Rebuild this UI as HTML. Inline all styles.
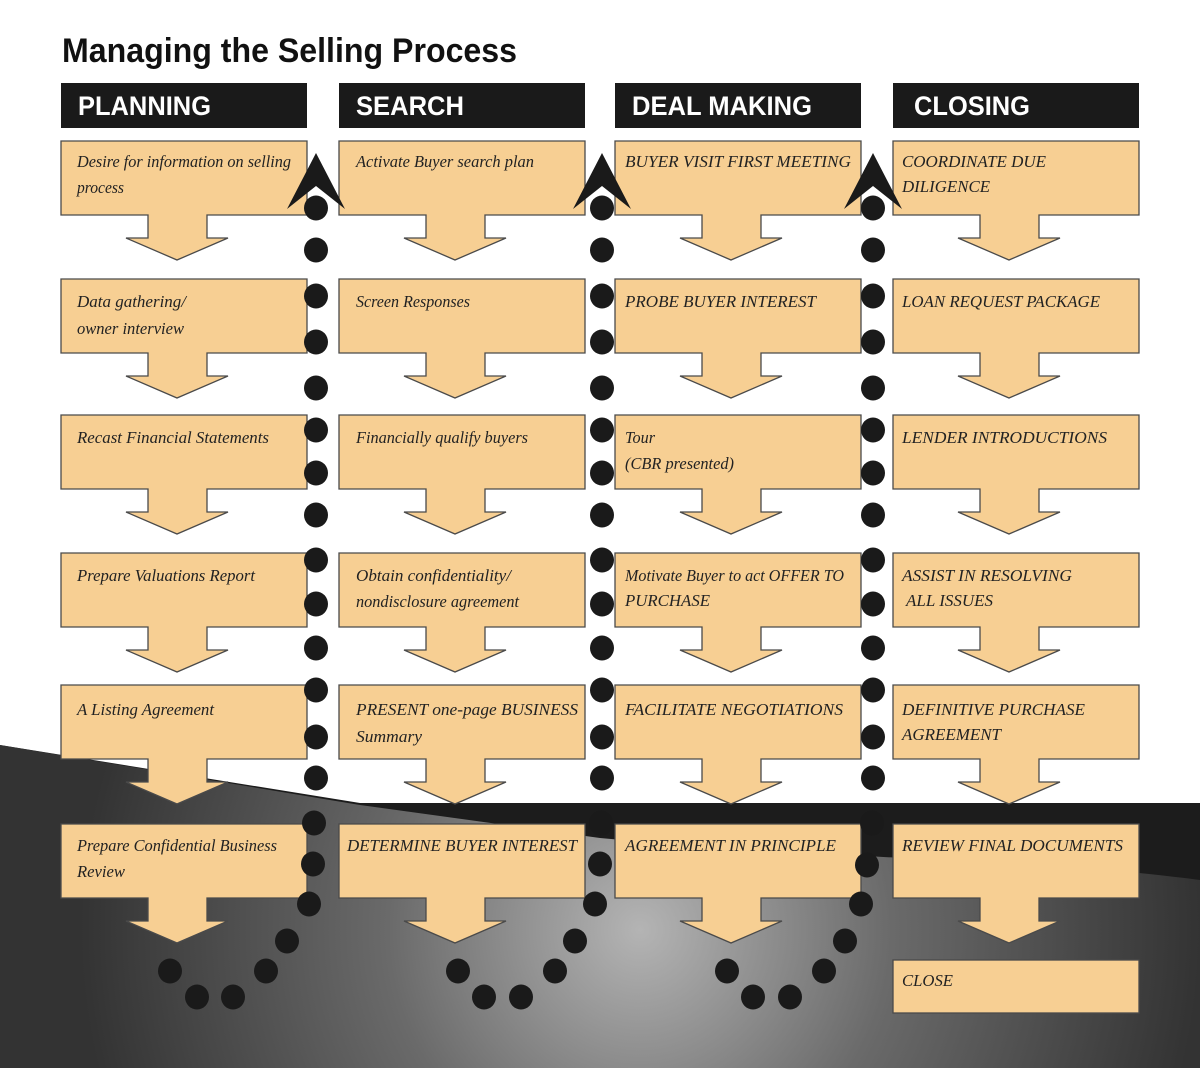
<!DOCTYPE html>
<html><head><meta charset="utf-8"><style>
html,body{margin:0;padding:0;background:#fff;}
svg{display:block;}
.b{fill:#f7cf93;stroke:#4a4a4a;stroke-width:1.3;}
.t{font-family:"Liberation Serif",serif;font-style:italic;font-size:17px;fill:#222;}
.h{font-family:"Liberation Sans",sans-serif;font-weight:bold;font-size:27px;fill:#fff;}
</style></head><body>
<svg width="1200" height="1068" viewBox="0 0 1200 1068" xmlns="http://www.w3.org/2000/svg">
<defs>
<radialGradient id="g" cx="640" cy="930" r="560" gradientUnits="userSpaceOnUse">
<stop offset="0" stop-color="#b4b4b4"/><stop offset="0.45" stop-color="#6a6a6a"/><stop offset="1" stop-color="#333"/>
</radialGradient>
</defs>
<rect width="1200" height="1068" fill="#fff"/>
<polygon points="0,745 360,803 1200,803 1200,1068 0,1068" fill="#1c1c1c"/>
<path d="M0,745 L360,805 L600,838 C750,852 900,858 1000,862 C1100,868 1160,875 1200,880 L1200,1068 L0,1068 Z" fill="url(#g)"/>
<text x="62" y="62" font-family="Liberation Sans,sans-serif" font-weight="bold" font-size="34" fill="#111" textLength="455" lengthAdjust="spacingAndGlyphs">Managing the Selling Process</text>
<rect x="61" y="83" width="246" height="45" fill="#1a1a1a"/>
<rect x="339" y="83" width="246" height="45" fill="#1a1a1a"/>
<rect x="615" y="83" width="246" height="45" fill="#1a1a1a"/>
<rect x="893" y="83" width="246" height="45" fill="#1a1a1a"/>
<text class="h" x="78" y="115" textLength="133" lengthAdjust="spacingAndGlyphs">PLANNING</text>
<text class="h" x="356" y="115" textLength="108" lengthAdjust="spacingAndGlyphs">SEARCH</text>
<text class="h" x="632" y="115" textLength="180" lengthAdjust="spacingAndGlyphs">DEAL MAKING</text>
<text class="h" x="914" y="115" textLength="116" lengthAdjust="spacingAndGlyphs">CLOSING</text>

<g id="boxes">
<!-- box path: M x,y H x+246 V y+74 H x+146 V y+97 H x+167 L x+116,y+119 L x+65,y+97 H x+87 V y+74 H x Z -->
<path class="b" d="M61,141 H307 V215 H207 V238 H228 L177,260 L126,238 H148 V215 H61 Z"/>
<path class="b" d="M61,279 H307 V353 H207 V376 H228 L177,398 L126,376 H148 V353 H61 Z"/>
<path class="b" d="M61,415 H307 V489 H207 V512 H228 L177,534 L126,512 H148 V489 H61 Z"/>
<path class="b" d="M61,553 H307 V627 H207 V650 H228 L177,672 L126,650 H148 V627 H61 Z"/>
<path class="b" d="M61,685 H307 V759 H207 V782 H228 L177,804 L126,782 H148 V759 H61 Z"/>
<path class="b" d="M61,824 H307 V898 H207 V921 H228 L177,943 L126,921 H148 V898 H61 Z"/>

<path class="b" d="M339,141 H585 V215 H485 V238 H506 L455,260 L404,238 H426 V215 H339 Z"/>
<path class="b" d="M339,279 H585 V353 H485 V376 H506 L455,398 L404,376 H426 V353 H339 Z"/>
<path class="b" d="M339,415 H585 V489 H485 V512 H506 L455,534 L404,512 H426 V489 H339 Z"/>
<path class="b" d="M339,553 H585 V627 H485 V650 H506 L455,672 L404,650 H426 V627 H339 Z"/>
<path class="b" d="M339,685 H585 V759 H485 V782 H506 L455,804 L404,782 H426 V759 H339 Z"/>
<path class="b" d="M339,824 H585 V898 H485 V921 H506 L455,943 L404,921 H426 V898 H339 Z"/>

<path class="b" d="M615,141 H861 V215 H761 V238 H782 L731,260 L680,238 H702 V215 H615 Z"/>
<path class="b" d="M615,279 H861 V353 H761 V376 H782 L731,398 L680,376 H702 V353 H615 Z"/>
<path class="b" d="M615,415 H861 V489 H761 V512 H782 L731,534 L680,512 H702 V489 H615 Z"/>
<path class="b" d="M615,553 H861 V627 H761 V650 H782 L731,672 L680,650 H702 V627 H615 Z"/>
<path class="b" d="M615,685 H861 V759 H761 V782 H782 L731,804 L680,782 H702 V759 H615 Z"/>
<path class="b" d="M615,824 H861 V898 H761 V921 H782 L731,943 L680,921 H702 V898 H615 Z"/>

<path class="b" d="M893,141 H1139 V215 H1039 V238 H1060 L1009,260 L958,238 H980 V215 H893 Z"/>
<path class="b" d="M893,279 H1139 V353 H1039 V376 H1060 L1009,398 L958,376 H980 V353 H893 Z"/>
<path class="b" d="M893,415 H1139 V489 H1039 V512 H1060 L1009,534 L958,512 H980 V489 H893 Z"/>
<path class="b" d="M893,553 H1139 V627 H1039 V650 H1060 L1009,672 L958,650 H980 V627 H893 Z"/>
<path class="b" d="M893,685 H1139 V759 H1039 V782 H1060 L1009,804 L958,782 H980 V759 H893 Z"/>
<path class="b" d="M893,824 H1139 V898 H1039 V921 H1060 L1009,943 L958,921 H980 V898 H893 Z"/>
<rect class="b" x="893" y="960" width="246" height="53"/>
</g>

<g fill="#1a1a1a">
<polygon points="316,153 345,209 316,186 287,209"/>
<polygon points="602,153 631,209 602,186 573,209"/>
<polygon points="873,153 902,209 873,186 844,209"/>
</g>

<g fill="#1a1a1a">
<!-- column 1 -->
<ellipse cx="316" cy="208" rx="12" ry="12.5"/><ellipse cx="316" cy="250" rx="12" ry="12.5"/><ellipse cx="316" cy="296" rx="12" ry="12.5"/><ellipse cx="316" cy="342" rx="12" ry="12.5"/><ellipse cx="316" cy="388" rx="12" ry="12.5"/><ellipse cx="316" cy="430" rx="12" ry="12.5"/><ellipse cx="316" cy="473" rx="12" ry="12.5"/><ellipse cx="316" cy="515" rx="12" ry="12.5"/><ellipse cx="316" cy="560" rx="12" ry="12.5"/><ellipse cx="316" cy="604" rx="12" ry="12.5"/><ellipse cx="316" cy="648" rx="12" ry="12.5"/><ellipse cx="316" cy="690" rx="12" ry="12.5"/><ellipse cx="316" cy="737" rx="12" ry="12.5"/><ellipse cx="316" cy="778" rx="12" ry="12.5"/><ellipse cx="314" cy="823" rx="12" ry="12.5"/><ellipse cx="313" cy="864" rx="12" ry="12.5"/><ellipse cx="309" cy="904" rx="12" ry="12.5"/><ellipse cx="287" cy="941" rx="12" ry="12.5"/><ellipse cx="266" cy="971" rx="12" ry="12.5"/><ellipse cx="233" cy="997" rx="12" ry="12.5"/><ellipse cx="197" cy="997" rx="12" ry="12.5"/><ellipse cx="170" cy="971" rx="12" ry="12.5"/>
<!-- column 2 -->
<ellipse cx="602" cy="208" rx="12" ry="12.5"/><ellipse cx="602" cy="250" rx="12" ry="12.5"/><ellipse cx="602" cy="296" rx="12" ry="12.5"/><ellipse cx="602" cy="342" rx="12" ry="12.5"/><ellipse cx="602" cy="388" rx="12" ry="12.5"/><ellipse cx="602" cy="430" rx="12" ry="12.5"/><ellipse cx="602" cy="473" rx="12" ry="12.5"/><ellipse cx="602" cy="515" rx="12" ry="12.5"/><ellipse cx="602" cy="560" rx="12" ry="12.5"/><ellipse cx="602" cy="604" rx="12" ry="12.5"/><ellipse cx="602" cy="648" rx="12" ry="12.5"/><ellipse cx="602" cy="690" rx="12" ry="12.5"/><ellipse cx="602" cy="737" rx="12" ry="12.5"/><ellipse cx="602" cy="778" rx="12" ry="12.5"/><ellipse cx="601" cy="823" rx="12" ry="12.5"/><ellipse cx="600" cy="864" rx="12" ry="12.5"/><ellipse cx="595" cy="904" rx="12" ry="12.5"/><ellipse cx="575" cy="941" rx="12" ry="12.5"/><ellipse cx="555" cy="971" rx="12" ry="12.5"/><ellipse cx="521" cy="997" rx="12" ry="12.5"/><ellipse cx="484" cy="997" rx="12" ry="12.5"/><ellipse cx="458" cy="971" rx="12" ry="12.5"/>
<!-- column 3 -->
<ellipse cx="873" cy="208" rx="12" ry="12.5"/><ellipse cx="873" cy="250" rx="12" ry="12.5"/><ellipse cx="873" cy="296" rx="12" ry="12.5"/><ellipse cx="873" cy="342" rx="12" ry="12.5"/><ellipse cx="873" cy="388" rx="12" ry="12.5"/><ellipse cx="873" cy="430" rx="12" ry="12.5"/><ellipse cx="873" cy="473" rx="12" ry="12.5"/><ellipse cx="873" cy="515" rx="12" ry="12.5"/><ellipse cx="873" cy="560" rx="12" ry="12.5"/><ellipse cx="873" cy="604" rx="12" ry="12.5"/><ellipse cx="873" cy="648" rx="12" ry="12.5"/><ellipse cx="873" cy="690" rx="12" ry="12.5"/><ellipse cx="873" cy="737" rx="12" ry="12.5"/><ellipse cx="873" cy="778" rx="12" ry="12.5"/><ellipse cx="872" cy="823" rx="12" ry="12.5"/><ellipse cx="867" cy="865" rx="12" ry="12.5"/><ellipse cx="861" cy="904" rx="12" ry="12.5"/><ellipse cx="845" cy="941" rx="12" ry="12.5"/><ellipse cx="824" cy="971" rx="12" ry="12.5"/><ellipse cx="790" cy="997" rx="12" ry="12.5"/><ellipse cx="753" cy="997" rx="12" ry="12.5"/><ellipse cx="727" cy="971" rx="12" ry="12.5"/>
</g>

<g class="t">
<text x="77" y="167" textLength="214" lengthAdjust="spacingAndGlyphs">Desire for information on selling</text>
<text x="77" y="193" textLength="47" lengthAdjust="spacingAndGlyphs">process</text>
<text x="77" y="307" textLength="109" lengthAdjust="spacingAndGlyphs">Data gathering/</text>
<text x="77" y="334" textLength="107" lengthAdjust="spacingAndGlyphs">owner interview</text>
<text x="77" y="443" textLength="192" lengthAdjust="spacingAndGlyphs">Recast  Financial Statements</text>
<text x="77" y="581" textLength="178" lengthAdjust="spacingAndGlyphs">Prepare Valuations Report</text>
<text x="77" y="715" textLength="137" lengthAdjust="spacingAndGlyphs">A Listing Agreement</text>
<text x="77" y="851" textLength="200" lengthAdjust="spacingAndGlyphs">Prepare Confidential Business</text>
<text x="77" y="877" textLength="48" lengthAdjust="spacingAndGlyphs">Review</text>

<text x="356" y="167" textLength="178" lengthAdjust="spacingAndGlyphs">Activate Buyer search plan</text>
<text x="356" y="307" textLength="114" lengthAdjust="spacingAndGlyphs">Screen Responses</text>
<text x="356" y="443" textLength="172" lengthAdjust="spacingAndGlyphs">Financially qualify buyers</text>
<text x="356" y="581" textLength="155" lengthAdjust="spacingAndGlyphs">Obtain confidentiality/</text>
<text x="356" y="607" textLength="163" lengthAdjust="spacingAndGlyphs">nondisclosure agreement</text>
<text x="356" y="715" textLength="222" lengthAdjust="spacingAndGlyphs">PRESENT one-page BUSINESS</text>
<text x="356" y="742" textLength="66" lengthAdjust="spacingAndGlyphs">Summary</text>
<text x="347" y="851" textLength="230" lengthAdjust="spacingAndGlyphs">DETERMINE BUYER INTEREST</text>

<text x="625" y="167" textLength="226" lengthAdjust="spacingAndGlyphs">BUYER VISIT FIRST MEETING</text>
<text x="625" y="307" textLength="191" lengthAdjust="spacingAndGlyphs">PROBE BUYER INTEREST</text>
<text x="625" y="443" textLength="30" lengthAdjust="spacingAndGlyphs">Tour</text>
<text x="625" y="469" textLength="109" lengthAdjust="spacingAndGlyphs">(CBR presented)</text>
<text x="625" y="581" textLength="219" lengthAdjust="spacingAndGlyphs">Motivate Buyer to act OFFER TO</text>
<text x="625" y="606" textLength="85" lengthAdjust="spacingAndGlyphs">PURCHASE</text>
<text x="625" y="715" textLength="218" lengthAdjust="spacingAndGlyphs">FACILITATE NEGOTIATIONS</text>
<text x="625" y="851" textLength="211" lengthAdjust="spacingAndGlyphs">AGREEMENT IN PRINCIPLE</text>

<text x="902" y="167" textLength="144" lengthAdjust="spacingAndGlyphs">COORDINATE DUE</text>
<text x="902" y="192" textLength="88" lengthAdjust="spacingAndGlyphs">DILIGENCE</text>
<text x="902" y="307" textLength="198" lengthAdjust="spacingAndGlyphs">LOAN REQUEST PACKAGE</text>
<text x="902" y="443" textLength="205" lengthAdjust="spacingAndGlyphs">LENDER INTRODUCTIONS</text>
<text x="902" y="581" textLength="170" lengthAdjust="spacingAndGlyphs">ASSIST IN RESOLVING</text>
<text x="906" y="606" textLength="87" lengthAdjust="spacingAndGlyphs">ALL ISSUES</text>
<text x="902" y="715" textLength="183" lengthAdjust="spacingAndGlyphs">DEFINITIVE PURCHASE</text>
<text x="902" y="740" textLength="99" lengthAdjust="spacingAndGlyphs">AGREEMENT</text>
<text x="902" y="851" textLength="221" lengthAdjust="spacingAndGlyphs">REVIEW FINAL DOCUMENTS</text>
<text x="902" y="986" textLength="51" lengthAdjust="spacingAndGlyphs">CLOSE</text>
</g>
</svg>
</body></html>
